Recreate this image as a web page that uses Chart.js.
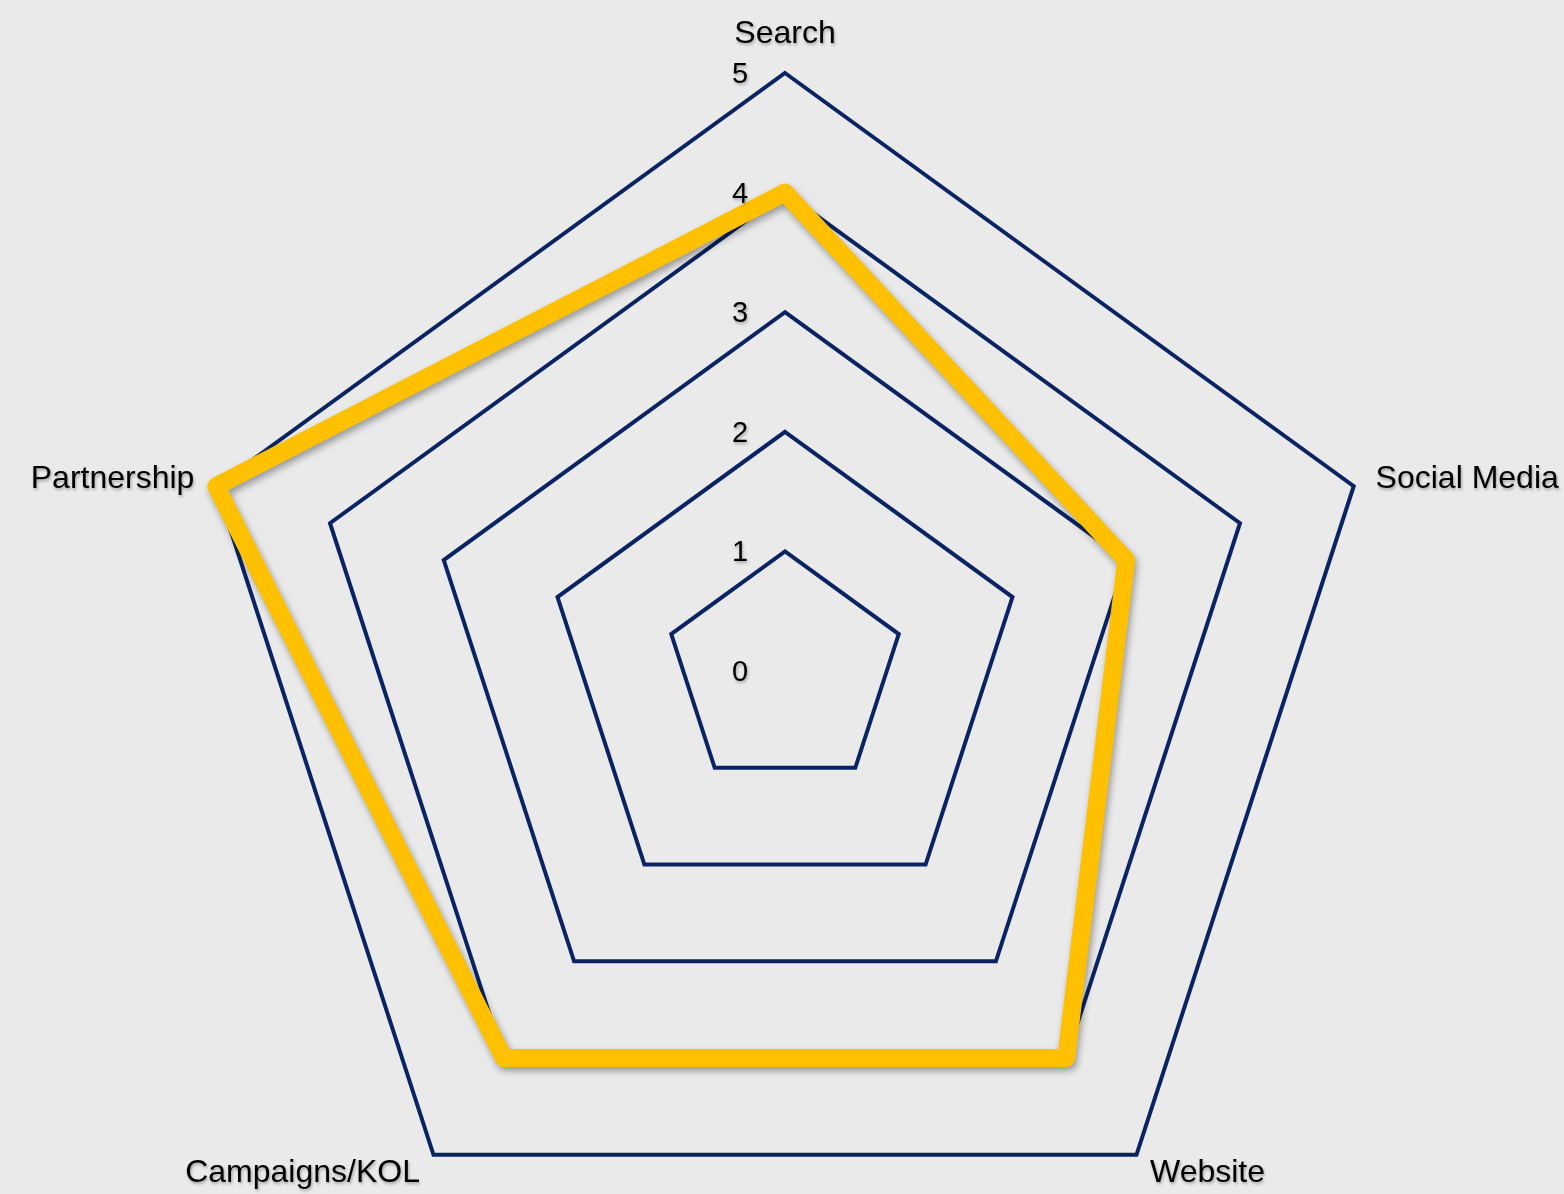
<!DOCTYPE html>
<html>
<head>
<meta charset="utf-8">
<title>Channel Radar</title>
<script src="https://cdn.jsdelivr.net/npm/chart.js@4.4.1/dist/chart.umd.min.js"></script>
<style>
    html, body {
        margin: 0;
        padding: 0;
        width: 1564px;
        height: 1194px;
        overflow: hidden;
        background: #EAEAEA;
    }
    .chart-wrap {
        position: absolute;
        left: 0;
        top: 0;
        width: 1564px;
        height: 1342px;
    }
</style>
</head>
<body>
<div class="chart-wrap">
    <canvas id="radarChart"></canvas>
</div>
<script>
// Chart data
const categories = ['Search', 'Social Media', 'Website', 'Campaigns/KOL', 'Partnership'];
const scores = [4, 3, 4, 4, 5];
const tickValues = [0, 1, 2, 3, 4, 5];

const FONT = '"Liberation Sans", Arial, sans-serif';

// Axis labels are drawn by hand so they can sit like the original (not pushed into the layout)
const radarLabels = {
    id: 'radarLabels',
    afterDatasetsDraw(chart) {
        const scale = chart.scales.r;
        const ctx = chart.ctx;
        ctx.save();
        ctx.fillStyle = '#000000';
        ctx.shadowColor = 'rgba(0, 0, 0, 0.3)';
        ctx.shadowBlur = 3;
        ctx.shadowOffsetX = 1;
        ctx.shadowOffsetY = 2;

        // category labels
        ctx.font = '32px ' + FONT;
        categories.forEach((label, i) => {
            const pos = scale.getPointPosition(i, scale.drawingArea + 23);
            if (i === 0) {
                ctx.textAlign = 'center';
                ctx.textBaseline = 'bottom';
            } else {
                ctx.textAlign = pos.x > scale.xCenter ? 'left' : 'right';
                ctx.textBaseline = 'middle';
            }
            ctx.fillText(label, pos.x, pos.y);
        });

        // tick labels, offset to the left of the top axis
        ctx.font = '29px ' + FONT;
        ctx.textAlign = 'center';
        ctx.textBaseline = 'middle';
        tickValues.forEach(v => {
            const pos = scale.getPointPositionForValue(0, v);
            ctx.fillText(String(v), pos.x - 45, pos.y + 2);
        });
        ctx.restore();
    }
};

// Drop shadow under the series line
const lineShadow = {
    id: 'lineShadow',
    beforeDatasetDraw(chart) {
        const ctx = chart.ctx;
        ctx.save();
        ctx.shadowColor = 'rgba(0, 0, 0, 0.35)';
        ctx.shadowBlur = 7;
        ctx.shadowOffsetX = 2;
        ctx.shadowOffsetY = 4;
    },
    afterDatasetDraw(chart) {
        chart.ctx.restore();
    }
};

const ctx = document.getElementById('radarChart').getContext('2d');

new Chart(ctx, {
    type: 'radar',
    data: {
        labels: categories,
        datasets: [{
            label: 'Score',
            data: scores,
            borderColor: '#FFC000',
            backgroundColor: 'rgba(0, 0, 0, 0)',
            borderWidth: 18,
            borderJoinStyle: 'round',
            fill: false,
            tension: 0,
            pointRadius: 0,
            pointHoverRadius: 0
        }]
    },
    options: {
        responsive: true,
        maintainAspectRatio: false,
        animation: false,
        layout: {
            padding: { left: 187, right: 181, top: 73, bottom: 73 }
        },
        plugins: {
            legend: { display: false },
            tooltip: { enabled: false }
        },
        scales: {
            r: {
                min: 0,
                max: 5,
                angleLines: { display: false },
                grid: {
                    color: '#0A2463',
                    lineWidth: 4
                },
                ticks: {
                    display: false,
                    stepSize: 1
                },
                pointLabels: { display: false }
            }
        }
    },
    plugins: [lineShadow, radarLabels]
});
</script>
</body>
</html>
